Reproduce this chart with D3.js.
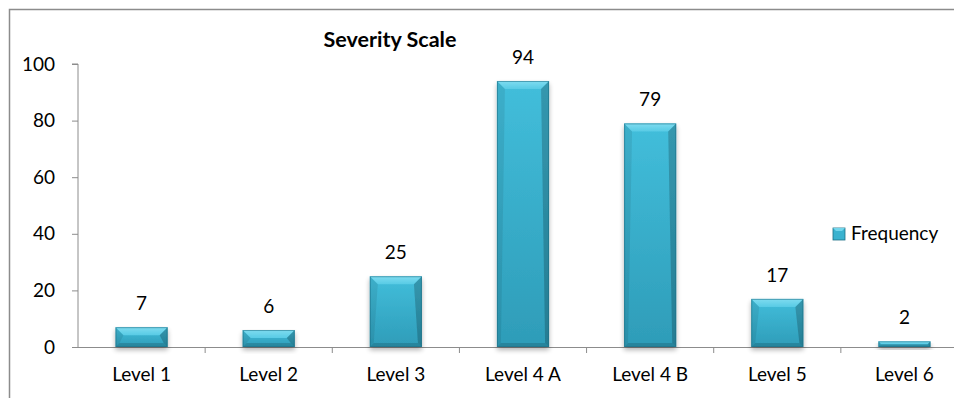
<!DOCTYPE html>
<html>
<head>
<meta charset="utf-8">
<script src="https://cdn.jsdelivr.net/npm/d3@7"></script>
<style>
  html, body { margin: 0; padding: 0; background: #fff; }
  svg { display: block; font-family: Lato, "Open Sans", "Noto Sans", sans-serif; }
</style>
</head>
<body>
<svg id="chart" width="954" height="398"></svg>
<script>
// Severity scale frequency counts
const categories = ["Level 1", "Level 2", "Level 3", "Level 4 A", "Level 4 B", "Level 5", "Level 6"];
const frequency = [7, 6, 25, 94, 79, 17, 2];
const yTicks = [0, 20, 40, 60, 80, 100];
const seriesName = "Frequency";
const chartTitle = "Severity Scale";

const FONT = "Lato, 'Open Sans', sans-serif";
const svg = d3.select("#chart");

// outer chart frame (extends past the right/bottom edge)
svg.append("path")
  .attr("d", "M9.5,398 V9.5 H960")
  .attr("fill", "none")
  .attr("stroke", "#8c8c8c")
  .attr("stroke-width", 1.5);

const plot = { left: 78, right: 968, top: 64, bottom: 347 };

const x = d3.scaleBand().domain(categories).range([plot.left, plot.right]).paddingInner(0.59).paddingOuter(0.295);
const xb = d3.scaleBand().domain(categories).range([plot.left, plot.right]);
const y = d3.scaleLinear().domain([0, 100]).range([plot.bottom, plot.top]);

const defs = svg.append("defs");
const sh = defs.append("filter").attr("id", "shadow").attr("x", "-20%").attr("y", "-20%").attr("width", "140%").attr("height", "160%");
sh.append("feGaussianBlur").attr("in", "SourceAlpha").attr("stdDeviation", 2.5);
sh.append("feOffset").attr("dx", 0).attr("dy", 3).attr("result", "b");
sh.append("feComponentTransfer").append("feFuncA").attr("type", "linear").attr("slope", 0.3);
const mg = sh.append("feMerge");
mg.append("feMergeNode");
mg.append("feMergeNode").attr("in", "SourceGraphic");

const body = defs.append("linearGradient").attr("id", "bodyGrad").attr("x1", 0).attr("x2", 0).attr("y1", 0).attr("y2", 1);
body.append("stop").attr("offset", "0%").attr("stop-color", "#42bedb");
body.append("stop").attr("offset", "100%").attr("stop-color", "#2e9cb8");

const topGrad = defs.append("linearGradient").attr("id", "topGrad").attr("x1", 0).attr("x2", 0).attr("y1", 0).attr("y2", 1);
topGrad.append("stop").attr("offset", "0%").attr("stop-color", "#7fdcf0");
topGrad.append("stop").attr("offset", "100%").attr("stop-color", "#58cbe5");

// y axis
const yAxis = svg.append("g")
  .attr("transform", `translate(${plot.left},0)`)
  .call(d3.axisLeft(y).tickValues(yTicks).tickSize(6).tickPadding(17).tickFormat(d3.format("d")));
yAxis.select(".domain").attr("stroke", "#8c8c8c").attr("d", `M-6,${y(100)}H0V${y(0)}`);
yAxis.selectAll(".tick line").attr("stroke", "#8c8c8c");
yAxis.selectAll(".tick text").attr("font-size", 19).attr("fill", "#000").attr("font-family", FONT);

// x axis
const xAxis = svg.append("g")
  .attr("transform", `translate(0,${plot.bottom})`)
  .call(d3.axisBottom(xb).tickSize(0).tickPadding(21));
xAxis.select(".domain").attr("stroke", "#8c8c8c").attr("d", `M${plot.left},0.5H${plot.right}`);
xAxis.selectAll(".tick text").attr("font-size", 19).attr("fill", "#000").attr("font-family", FONT);
// boundary ticks between categories
xAxis.selectAll(".sep").data(categories.slice(1)).enter().append("line")
  .attr("x1", d => xb(d)).attr("x2", d => xb(d))
  .attr("y1", 0).attr("y2", 6)
  .attr("stroke", "#8c8c8c");

// bevelled bars
const bars = svg.append("g").selectAll("g.bar").data(categories.map((c, i) => ({ c, v: frequency[i] })))
  .enter().append("g").attr("class", "bar").attr("filter", "url(#shadow)");

bars.each(function (d) {
  const g = d3.select(this);
  const x0 = x(d.c), w = x.bandwidth();
  const y0 = y(d.v), y1 = y(0), h = y1 - y0;
  const b = Math.min(8, h / 2);
  const s = Math.min(4, h / 2);
  g.append("rect").attr("x", x0).attr("y", y0).attr("width", w).attr("height", h).attr("fill", "url(#bodyGrad)");
  // top bevel
  g.append("polygon").attr("points", [[x0, y0], [x0 + w, y0], [x0 + w - b, y0 + b], [x0 + b, y0 + b]].join(" ")).attr("fill", "url(#topGrad)");
  // left bevel
  g.append("polygon").attr("points", [[x0, y0], [x0 + b, y0 + b], [x0 + s, y1 - s], [x0, y1]].join(" ")).attr("fill", "#000").attr("fill-opacity", 0.08);
  // right bevel
  g.append("polygon").attr("points", [[x0 + w, y0], [x0 + w - b, y0 + b], [x0 + w - s, y1 - s], [x0 + w, y1]].join(" ")).attr("fill", "#000").attr("fill-opacity", 0.2);
  // bottom bevel
  g.append("polygon").attr("points", [[x0, y1], [x0 + s, y1 - s], [x0 + w - s, y1 - s], [x0 + w, y1]].join(" ")).attr("fill", "#000").attr("fill-opacity", 0.15);
  g.append("rect").attr("x", x0 + 0.5).attr("y", y0 + 0.5).attr("width", w - 1).attr("height", Math.max(0, h - 1))
    .attr("fill", "none").attr("stroke", "#1d6e84").attr("stroke-width", 1).attr("stroke-opacity", 0.55);
});

// value labels
svg.append("g").selectAll("text").data(categories.map((c, i) => ({ c, v: frequency[i] })))
  .enter().append("text")
  .attr("x", d => xb(d.c) + xb.bandwidth() / 2)
  .attr("y", d => y(d.v) - 17)
  .attr("text-anchor", "middle")
  .attr("font-size", 19)
  .attr("font-family", FONT)
  .attr("fill", "#000")
  .text(d => d.v);

// title
svg.append("text")
  .attr("x", 390).attr("y", 47)
  .attr("text-anchor", "middle")
  .attr("font-size", 21.5)
  .attr("font-weight", "bold")
  .attr("font-family", FONT)
  .attr("fill", "#000")
  .text(chartTitle);

// legend
const lg = svg.append("g").attr("transform", "translate(833,228)");
lg.append("rect").attr("width", 12).attr("height", 12).attr("fill", "#3ab2cf").attr("stroke", "#1d6e84").attr("stroke-width", 0.8);
lg.append("polygon").attr("points", "0,0 12,0 9,3 3,3").attr("fill", "#72d6ec");
lg.append("text").attr("x", 18).attr("y", 12).attr("font-size", 19).attr("font-family", FONT).attr("fill", "#000").text(seriesName);
</script>
</body>
</html>
